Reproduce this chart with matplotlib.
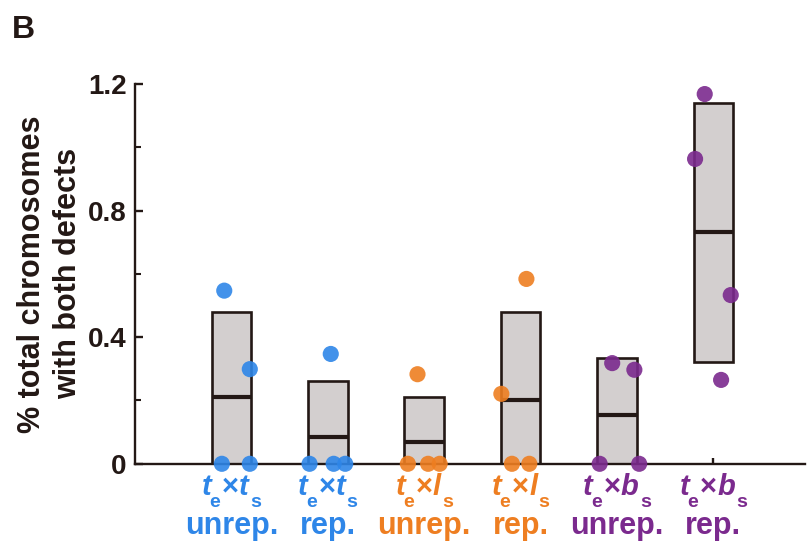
import numpy as np
import matplotlib
matplotlib.use("Agg")
import matplotlib.pyplot as plt
from matplotlib.ticker import MultipleLocator

plt.rcParams['font.family'] = ['Liberation Sans', 'DejaVu Sans']
plt.rcParams['font.weight'] = 'bold'

# groups: egg strain x sperm strain, replication state
egg = ['t', 't', 't', 't', 't', 't']
sperm = ['t', 't', 'l', 'l', 'b', 'b']
line2 = ['unrep.', 'rep.', 'unrep.', 'rep.', 'unrep.', 'rep.']
group_colors = ['#2E86E8', '#2E86E8', '#EE7E21', '#EE7E21', '#7B2A8E', '#7B2A8E']

# box: low, high, median
box_low = [0, 0, 0, 0, 0, 0.323]
box_high = [0.478, 0.26, 0.21, 0.478, 0.334, 1.141]
box_med = [0.211, 0.086, 0.068, 0.20, 0.155, 0.732]

# individual replicates
pts = [
    [0.547, 0.299, 0, 0],
    [0.347, 0, 0, 0],
    [0.283, 0, 0, 0],
    [0.584, 0.221, 0, 0],
    [0.318, 0.297, 0, 0],
    [1.168, 0.963, 0.533, 0.265],
]
jitter = [
    [-0.075, 0.19, -0.10, 0.19],
    [0.03, -0.19, 0.06, 0.18],
    [-0.07, -0.17, 0.04, 0.16],
    [0.06, -0.20, -0.09, 0.09],
    [-0.05, 0.18, -0.18, 0.23],
    [-0.09, -0.19, 0.18, 0.08],
]

EDGE = '#231815'
FILL = '#D3CFCF'

fig = plt.figure(figsize=(8.09, 5.45), dpi=100)
ax = fig.add_axes([0.167, 0.149, 0.828, 0.697])

x = np.arange(1, len(line2) + 1)
w = 0.41
ax.bar(x, np.array(box_high) - np.array(box_low), bottom=box_low, width=w,
       color=FILL, edgecolor=EDGE, linewidth=1.9, zorder=2)
ax.hlines(box_med, x - w / 2, x + w / 2, colors=EDGE, linewidth=3.0, zorder=3)

for i, (vals, jit) in enumerate(zip(pts, jitter)):
    ax.scatter(x[i] + np.array(jit), vals, s=135, color=group_colors[i],
               edgecolors='none', alpha=0.9, zorder=5, clip_on=False)

ax.set_xlim(0, 6.95)
ax.set_ylim(0, 1.2)
ax.spines['top'].set_visible(False)
ax.spines['right'].set_visible(False)
for s in ['left', 'bottom']:
    ax.spines[s].set_linewidth(1.7)
    ax.spines[s].set_color(EDGE)

ax.yaxis.set_major_locator(MultipleLocator(0.4))
ax.yaxis.set_minor_locator(MultipleLocator(0.2))
ax.set_yticks([0, 0.4, 0.8, 1.2])
ax.set_yticklabels(['0', '0.4', '0.8', '1.2'], fontsize=20, fontweight='bold',
                   color=EDGE)
ax.tick_params(axis='y', which='major', direction='in', length=6, width=1.7,
               color=EDGE, pad=6)
ax.tick_params(axis='y', which='minor', direction='in', length=4, width=1.5,
               color=EDGE)

ax.set_xticks(x)
ax.set_xticklabels([''] * len(x))
ax.tick_params(axis='x', direction='in', length=4, width=1.7, color=EDGE)

# x labels: "t_e x t_s" line built from pieces, then the state line
SUB = -7.1  # subscript drop relative to previous piece (points)
first_pieces = []
for i, xi in enumerate(x):
    c = group_colors[i]
    parts = [(egg[i], 21, 'italic', 0, 0), ('e', 14, 'normal', -1.5, SUB),
             ('\u00d7', 21, 'normal', 1.5, -SUB), (sperm[i], 21, 'italic', 0, 0),
             ('s', 14, 'normal', 1, SUB)]
    prev = None
    group = []
    for txt, fs, style, dx, dy in parts:
        if prev is None:
            t = ax.annotate(txt, xy=(xi, 0), xycoords='data',
                            xytext=(0, -22.3), textcoords='offset points',
                            fontsize=fs, fontstyle=style, fontweight='bold',
                            color=c, ha='left', va='baseline',
                            annotation_clip=False)
        else:
            t = ax.annotate(txt, xy=(1, 0), xycoords=prev,
                            xytext=(dx, dy), textcoords='offset points',
                            fontsize=fs, fontstyle=style, fontweight='bold',
                            color=c, ha='left', va='bottom',
                            annotation_clip=False)
        group.append(t)
        prev = t
    first_pieces.append(group)
    ax.annotate(line2[i], xy=(xi, 0), xycoords='data', xytext=(0, -50.4),
                textcoords='offset points', fontsize=22, fontweight='bold',
                color=c, ha='center', va='baseline', annotation_clip=False)

# centre each composed label under its tick
fig.canvas.draw()
r = fig.canvas.get_renderer()
for group in first_pieces:
    x0 = group[0].get_window_extent(r).x0
    x1 = max(g.get_window_extent(r).x1 for g in group)
    half = (x1 - x0) / 2 * 72 / fig.dpi
    group[0].xyann = (-half, -22.3)

ax.set_ylabel('% total chromosomes\nwith both defects', fontsize=22,
              fontweight='bold', color=EDGE, linespacing=1.3)
ax.yaxis.set_label_coords(-0.077, 0.5)

fig.text(0.015, 0.930, 'B', fontsize=23, fontweight='bold', color=EDGE,
         va='baseline')

fig.savefig('out.png', dpi=100)
